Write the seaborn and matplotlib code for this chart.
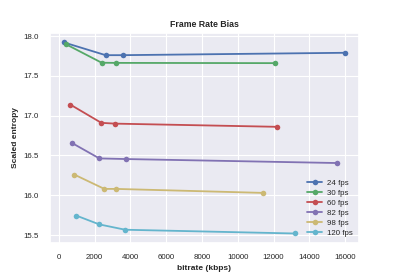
import pandas as pd
import numpy as np
import matplotlib
matplotlib.use("Agg")
import matplotlib.pyplot as plt
import seaborn as sns

sns.set_theme(style="darkgrid")
plt.rcParams['font.family'] = ['Liberation Sans', 'DejaVu Sans']

# bitrate (kbps) and scaled entropy for each frame rate
labels = ['24 fps', '30 fps', '60 fps', '82 fps', '98 fps', '120 fps']
bitrate_24 = [280, 2610, 3560, 16000]
entropy_24 = [17.92, 17.76, 17.76, 17.79]
bitrate_30 = [370, 2390, 3190, 12100]
entropy_30 = [17.90, 17.665, 17.663, 17.66]
bitrate_60 = [630, 2370, 3130, 12200]
entropy_60 = [17.14, 16.91, 16.90, 16.86]
bitrate_82 = [745, 2260, 3770, 15570]
entropy_82 = [16.655, 16.463, 16.455, 16.405]
bitrate_98 = [860, 2540, 3190, 11390]
entropy_98 = [16.26, 16.08, 16.08, 16.03]
bitrate_120 = [970, 2260, 3710, 13180]
entropy_120 = [15.745, 15.634, 15.567, 15.52]

bitrates = [bitrate_24, bitrate_30, bitrate_60, bitrate_82, bitrate_98, bitrate_120]
entropies = [entropy_24, entropy_30, entropy_60, entropy_82, entropy_98, entropy_120]

rows = []
for lab, br, en in zip(labels, bitrates, entropies):
    for b, e in zip(br, en):
        rows.append({'bitrate': b, 'entropy': e, 'fps': lab})
df = pd.DataFrame(rows)

fig, ax = plt.subplots(figsize=(3.99, 2.74), dpi=100)
sns.lineplot(data=df, x='bitrate', y='entropy', hue='fps', hue_order=labels,
             palette='deep6', marker='o', markersize=4, markeredgewidth=0,
             linewidth=1.3, sort=True, ax=ax)

ax.set_title('Frame Rate Bias', fontsize=6.3, fontweight='bold', pad=4)
ax.set_xlabel('bitrate (kbps)', fontsize=6, fontweight='bold', labelpad=3)
ax.set_ylabel('Scaled entropy', fontsize=6, fontweight='bold', labelpad=3)
ax.tick_params(labelsize=5.7, pad=2)
ax.set_xticks([0, 2000, 4000, 6000, 8000, 10000, 12000, 14000, 16000])
ax.set_yticks([15.5, 16.0, 16.5, 17.0, 17.5, 18.0])
ax.grid(linewidth=0.8)
ax.legend(loc='lower right', frameon=False, fontsize=5.7, handlelength=1.9,
          handletextpad=0.6, borderaxespad=0.4, labelspacing=0.3)

fig.subplots_adjust(left=0.125, right=0.9, bottom=0.113, top=0.88)
fig.savefig('out.png', dpi=100)
